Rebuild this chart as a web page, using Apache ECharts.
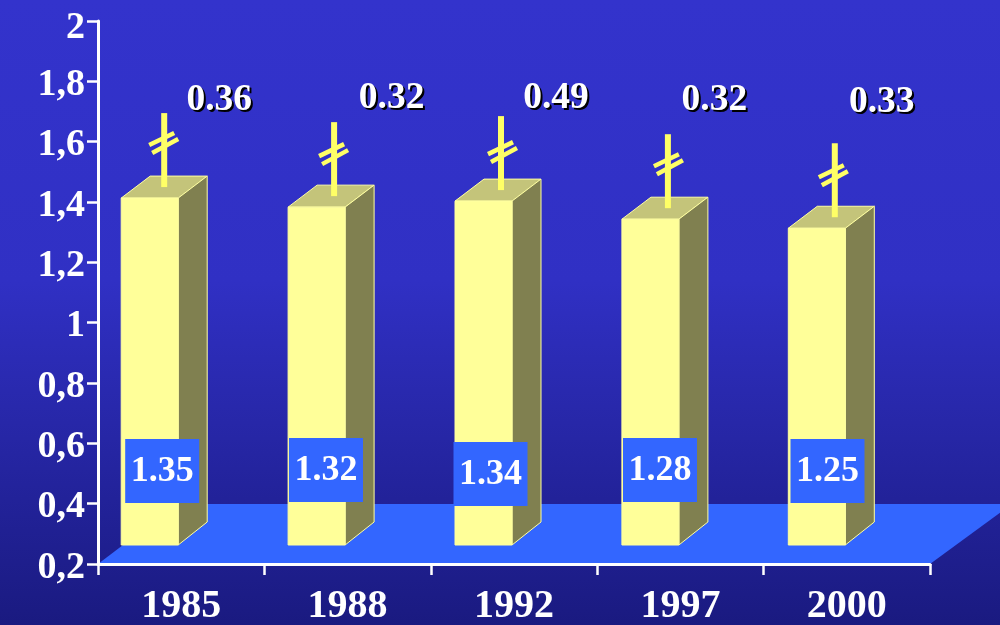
<!DOCTYPE html>
<html>
<head>
<meta charset="utf-8">
<style>html,body{margin:0;padding:0;background:#26269c}#c{width:1000px;height:625px}</style>
<script src="https://cdn.jsdelivr.net/npm/echarts@6/dist/echarts.min.js"></script>
</head>
<body>
<div id="c"></div>
<script>
var years = ['1985', '1988', '1992', '1997', '2000'];
var barValues = [1.35, 1.32, 1.34, 1.28, 1.25];
var topLabels = ['0.36', '0.32', '0.49', '0.32', '0.33'];

// Hand-placed annotation offsets (relative to each category's slot)
var faceShiftX = [0, 0.5, 1, 1.5, 1.5];
var stemShiftX = [0, 3, 3, 3, 3.5];
var slashShiftX = [0, 0, 2, 1, -1];
var slashDrop = [0, 2, 6, 0, 2];
var boxShiftX = [-19, -21.6, -23.5, -20.4, -19.3];
var boxRaise = [93, 94, 90, 94, 93];
var labelShiftX = [38, 44, 42, 34, 35];
var labelDrop = [77, 75, 75, 77, 79];

var FONT = '"Liberation Serif", "Times New Roman", serif';
var FLOOR_RAISE = 19, FACE_L = -60, FACE_R = -3, DEPTH_X = 29, DEPTH_Y = 22;
var FRONT = '#ffff99', SIDE = '#808050', TOP = '#c4c47a', EDGE = '#ffffa0', FLOOR = '#3366ff', STEM = '#ffff66';

function poly(points, fill, stroke) {
  return {
    type: 'polygon',
    shape: { points: points },
    style: { fill: fill, stroke: stroke || null, lineWidth: stroke ? 1 : 0 }
  };
}
function line(x1, y1, x2, y2, w) {
  return { type: 'line', shape: { x1: x1, y1: y1, x2: x2, y2: y2 }, style: { stroke: STEM, lineWidth: w } };
}
function label(x, y, text, size, fill) {
  return {
    type: 'text',
    style: {
      x: x, y: y, text: text, fill: fill, align: 'center', verticalAlign: 'middle',
      font: 'bold ' + size + 'px ' + FONT
    }
  };
}

function renderFloor(params, api) {
  var cs = params.coordSys;
  var b = cs.y + cs.height, r = cs.x + cs.width, l = cs.x, t = b - 60;
  return poly([[l, b], [r, b], [r + 82, t], [l + 79, t]], FLOOR);
}

function renderBar(params, api) {
  var i = params.dataIndex;
  var v = api.value(1);
  var top = api.coord([i, v]);
  var base = api.coord([i, 0.2]);
  var cx = base[0];
  var yB = base[1] - FLOOR_RAISE, yT = top[1] - FLOOR_RAISE;
  var xL = cx + FACE_L + faceShiftX[i], xR = cx + FACE_R + faceShiftX[i];
  var sx = (xL + xR) / 2 + DEPTH_X / 2 + stemShiftX[i], sBottom = yT - DEPTH_Y / 2;
  var kx = sx + slashShiftX[i], ky = sBottom + slashDrop[i];
  var gridTop = api.coord([i, 2])[1];
  var lx = cx + labelShiftX[i], ly = gridTop + labelDrop[i] + 2;
  return {
    type: 'group',
    children: [
      poly([[xL, yT], [xR, yT], [xR + DEPTH_X, yT - DEPTH_Y], [xL + DEPTH_X, yT - DEPTH_Y]], TOP, EDGE),
      poly([[xR, yT], [xR + DEPTH_X, yT - DEPTH_Y], [xR + DEPTH_X, yB - DEPTH_Y - 1], [xR, yB]], SIDE, EDGE),
      poly([[xL, yT], [xR, yT], [xR, yB], [xL, yB]], FRONT, EDGE),
      line(sx, sBottom, sx, sBottom - 74, 6),
      line(kx - 15, ky - 42, kx + 10, ky - 54, 4.5),
      line(kx - 12, ky - 34, kx + 14, ky - 48, 4.5),
      {
        type: 'rect',
        shape: { x: cx + boxShiftX[i] - 37, y: base[1] - boxRaise[i] - 32, width: 74, height: 64 },
        style: { fill: FLOOR }
      },
      label(cx + boxShiftX[i], base[1] - boxRaise[i] + 1, v.toFixed(2), 36, '#ffffff'),
      label(lx + 2, ly + 2, topLabels[i], 37.5, '#000000'),
      label(lx, ly, topLabels[i], 37.5, '#ffffff')
    ]
  };
}

var chart = echarts.init(document.getElementById('c'), null, { renderer: 'canvas' });
chart.setOption({
  animation: false,
  backgroundColor: new echarts.graphic.LinearGradient(0, 0, 0, 1, [
    { offset: 0, color: '#3333cc' },
    { offset: 0.45, color: '#3030c4' },
    { offset: 1, color: '#1a1a80' }
  ]),
  grid: { left: 98, right: 70, top: 21, bottom: 61, containLabel: false, outerBoundsMode: 'none' },
  xAxis: {
    type: 'category',
    data: years,
    boundaryGap: true,
    z: 5,
    axisLine: { lineStyle: { color: '#ffffff', width: 3 } },
    axisTick: { show: true, alignWithLabel: false, length: 11, lineStyle: { color: '#ffffff', width: 2.5 } },
    axisLabel: { color: '#ffffff', fontFamily: FONT, fontWeight: 'bold', fontSize: 40, margin: 23 },
    splitLine: { show: false }
  },
  yAxis: {
    type: 'value',
    min: 0.2,
    max: 2,
    interval: 0.2,
    z: 5,
    axisLine: { show: true, lineStyle: { color: '#ffffff', width: 3 } },
    axisTick: { show: true, length: 11, lineStyle: { color: '#ffffff', width: 2.5 } },
    axisLabel: {
      color: '#ffffff', fontFamily: FONT, fontWeight: 'bold', fontSize: 38, margin: 13,
      padding: [8, 0, 0, 0],
      formatter: function (v) {
        var s = String(+v.toFixed(1)).replace('.', ',');
        return s === '2' ? '{top|2}' : s;
      },
      rich: {
        top: { color: '#ffffff', fontFamily: FONT, fontWeight: 'bold', fontSize: 38, padding: [6, 0, 0, 0] }
      }
    },
    splitLine: { show: false }
  },
  series: [
    { type: 'custom', z: 1, silent: true, renderItem: renderFloor, data: [[0, 0.2]], encode: { x: 0, y: 1 } },
    {
      type: 'custom', z: 2, silent: true, renderItem: renderBar,
      data: barValues.map(function (v, i) { return [i, v]; }),
      encode: { x: 0, y: 1 }
    }
  ]
});
</script>
</body>
</html>
